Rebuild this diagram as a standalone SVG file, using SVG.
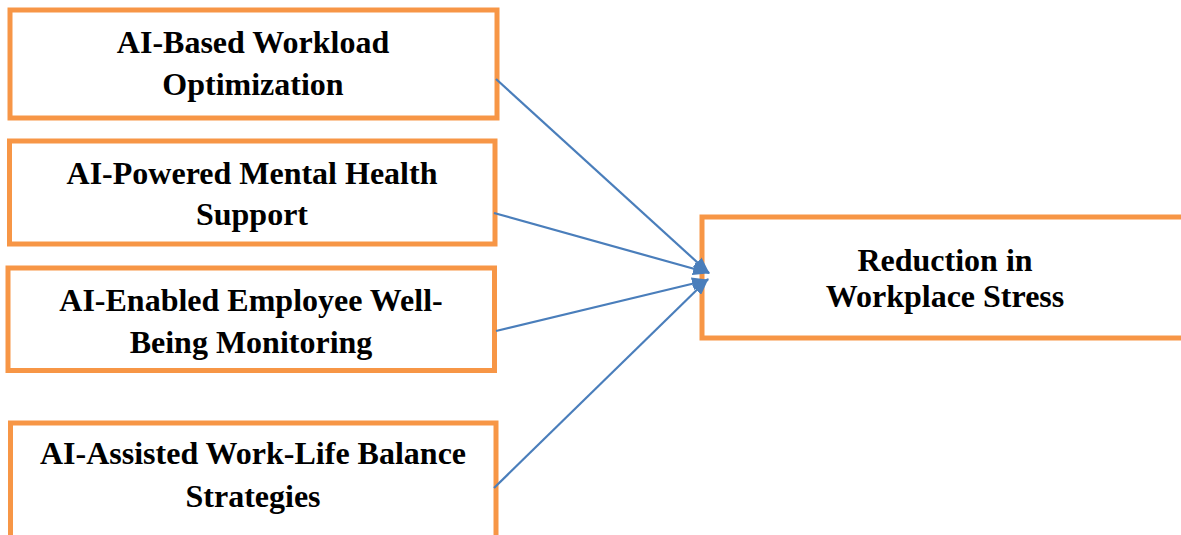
<svg xmlns="http://www.w3.org/2000/svg" width="1181" height="535" viewBox="0 0 1181 535">
<style>
.box{fill:#ffffff;stroke:#F79646;stroke-width:5}
.lbl{font-family:"Liberation Serif","Times New Roman",serif;font-weight:bold;font-size:32px;fill:#000;text-anchor:middle}
.conn{stroke:#4A7EBB;stroke-width:2.2;fill:none;marker-end:url(#arr)}
</style>
<defs>
<marker id="arr" markerUnits="userSpaceOnUse" markerWidth="17" markerHeight="13" refX="16" refY="6.5" orient="auto">
<path d="M0,0 L17,6.5 L0,13 Z" fill="#4A7EBB"/>
</marker>
</defs>
<rect width="1181" height="535" fill="#ffffff"/>
<g id="node-workload">
<rect class="box" x="10" y="10" width="487" height="108"/>
<text class="lbl" x="253" y="53">AI-Based Workload</text>
<text class="lbl" x="253" y="95">Optimization</text>
</g>
<g id="node-mental">
<rect class="box" x="9.5" y="141" width="485.5" height="103"/>
<text class="lbl" x="252" y="184">AI-Powered Mental Health</text>
<text class="lbl" x="252" y="225">Support</text>
</g>
<g id="node-wellbeing">
<rect class="box" x="8" y="268" width="486.5" height="102.5"/>
<text class="lbl" x="251" y="311">AI-Enabled Employee Well-</text>
<text class="lbl" x="251" y="353">Being Monitoring</text>
</g>
<g id="node-balance">
<rect class="box" x="10.5" y="423" width="485.5" height="120"/>
<text class="lbl" x="253" y="464">AI-Assisted Work-Life Balance</text>
<text class="lbl" x="253" y="507">Strategies</text>
</g>
<g id="node-stress">
<rect class="box" x="702" y="217" width="490" height="121"/>
<text class="lbl" x="945" y="271">Reduction in</text>
<text class="lbl" x="945" y="307">Workplace Stress</text>
</g>
<g id="connectors">
<line class="conn" x1="496" y1="79" x2="709" y2="273"/>
<line class="conn" x1="494" y1="213" x2="709" y2="273"/>
<line class="conn" x1="496" y1="331" x2="708" y2="280"/>
<line class="conn" x1="494" y1="488" x2="708" y2="279"/>
</g>
</svg>
